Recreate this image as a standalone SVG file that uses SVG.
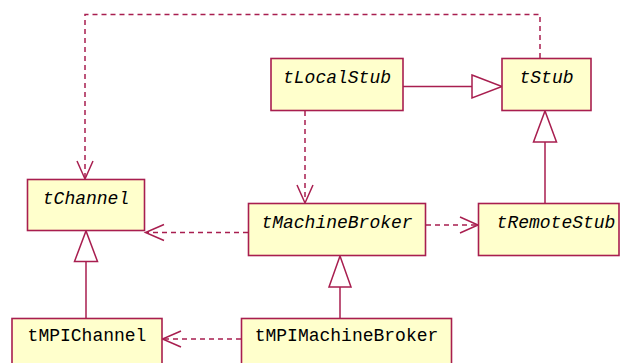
<svg xmlns="http://www.w3.org/2000/svg" width="621" height="363" viewBox="0 0 621 363">
  <style>
    .cls rect { fill: #FFFFCC; stroke: #A81E4F; stroke-width: 1.6; }
    .cls text { font-family: "Liberation Mono", "Courier New", monospace; font-size: 18px; fill: #000000; text-anchor: middle; }
    .cls text.abstract { font-style: italic; }
    .edge { fill: none; stroke: #A81E4F; stroke-width: 1.5; }
    .dep { stroke-dasharray: 5 4; }
    .head { fill: #FFFFFF; stroke: #A81E4F; stroke-width: 1.5; }
    .open { fill: none; stroke: #A81E4F; stroke-width: 1.5; }
  </style>
  <rect width="621" height="363" fill="#FFFFFF"/>

  <g id="connectors">
    <!-- tStub ..> tChannel -->
    <path class="edge dep" d="M540 58 V14.5 H85 V178"/>
    <path class="open" d="M77 161 L85 179 L93 161"/>
    <!-- tLocalStub -|> tStub -->
    <path class="edge" d="M403 86.5 H472"/>
    <path class="head" d="M472 75 L502 86.5 L472 98 Z"/>
    <!-- tLocalStub ..> tMachineBroker -->
    <path class="edge dep" d="M305 111 V202"/>
    <path class="open" d="M297 185 L305 203 L313 185"/>
    <!-- tMachineBroker ..> tChannel -->
    <path class="edge dep" d="M248 232.5 H147"/>
    <path class="open" d="M164 224.5 L145.5 232.5 L164 240.5"/>
    <!-- tMachineBroker ..> tRemoteStub -->
    <path class="edge dep" d="M426 225 H477"/>
    <path class="open" d="M460 217 L478 225 L460 233"/>
    <!-- tRemoteStub -|> tStub -->
    <path class="edge" d="M545 203 V142"/>
    <path class="head" d="M533.5 142 L545 111 L556.5 142 Z"/>
    <!-- tMPIChannel -|> tChannel -->
    <path class="edge" d="M86 318 V261.5"/>
    <path class="head" d="M74.5 261.5 L86 231 L97.5 261.5 Z"/>
    <!-- tMPIMachineBroker -|> tMachineBroker -->
    <path class="edge" d="M340 318 V287"/>
    <path class="head" d="M329 287 L340 256 L351 287 Z"/>
    <!-- tMPIMachineBroker ..> tMPIChannel -->
    <path class="edge dep" d="M241 339 H164"/>
    <path class="open" d="M181 331 L162.5 339 L181 347"/>
  </g>

  <g id="tLocalStub" class="cls">
    <rect x="271" y="58.5" width="132" height="52"/>
    <text class="abstract" x="337" y="82.5">tLocalStub</text>
  </g>
  <g id="tStub" class="cls">
    <rect x="502" y="58.5" width="89" height="52"/>
    <text class="abstract" x="546.5" y="82.5">tStub</text>
  </g>
  <g id="tChannel" class="cls">
    <rect x="27.5" y="179.5" width="117" height="51"/>
    <text class="abstract" x="86" y="203.5">tChannel</text>
  </g>
  <g id="tMachineBroker" class="cls">
    <rect x="248.5" y="203.5" width="177" height="52"/>
    <text class="abstract" x="337" y="227.5">tMachineBroker</text>
  </g>
  <g id="tRemoteStub" class="cls">
    <rect x="478.5" y="203.5" width="140.5" height="52"/>
    <text class="abstract" x="556" y="227.5">tRemoteStub</text>
  </g>
  <g id="tMPIChannel" class="cls">
    <rect x="12" y="318.5" width="150" height="60"/>
    <text x="87" y="341">tMPIChannel</text>
  </g>
  <g id="tMPIMachineBroker" class="cls">
    <rect x="241.5" y="318.5" width="210" height="60"/>
    <text x="346.5" y="341">tMPIMachineBroker</text>
  </g>
</svg>
